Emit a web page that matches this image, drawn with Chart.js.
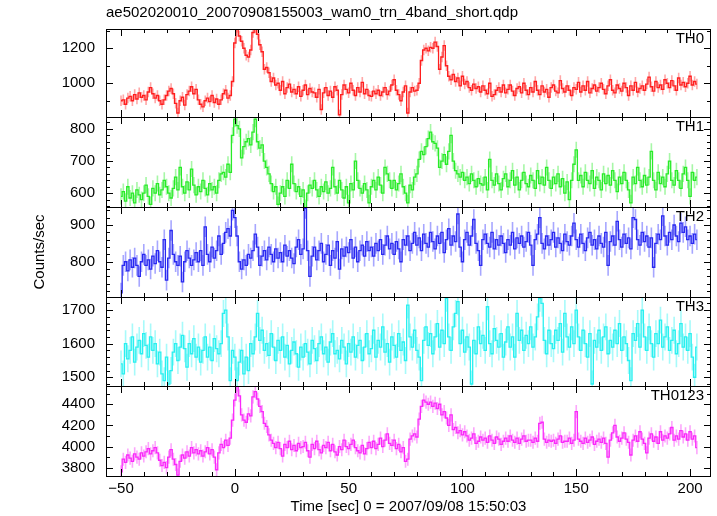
<!DOCTYPE html>
<html>
<head>
<meta charset="utf-8">
<script src="https://cdn.jsdelivr.net/npm/chart.js@4.4.0/dist/chart.umd.min.js"></script>
<style>
  html, body { margin: 0; padding: 0; background: #fff; }
  #wrap { position: relative; width: 717px; height: 516px; }
  #wrap canvas { position: absolute; left: 0; top: 0; }
</style>
</head>
<body>
<div id="wrap">
  <canvas id="p0" width="717" height="516"></canvas>
  <canvas id="p1" width="717" height="516"></canvas>
  <canvas id="p2" width="717" height="516"></canvas>
  <canvas id="p3" width="717" height="516"></canvas>
  <canvas id="p4" width="717" height="516"></canvas>
</div>
<script>
const plotTitle = 'ae502020010_20070908155003_wam0_trn_4band_short.qdp';
const xTitle = 'Time [sec] 0 = 2007/09/08 15:50:03';
const yTitle = 'Counts/sec';
const bandNames = ['TH0', 'TH1', 'TH2', 'TH3', 'TH0123'];

// light curves, 1 s bins, first bin centred on t = -50 s
const tStart = -50;
const binSec = 1;

const th0 = [
  900, 905, 880, 915, 925, 900, 935, 910, 945, 920,
  930, 905, 950, 975, 940, 915, 930, 900, 880, 905,
  930, 955, 970, 940, 885, 830, 900, 920, 875, 935,
  955, 980, 940, 965, 905, 880, 865, 900, 915, 895,
  930, 890, 910, 880, 905, 940, 960, 915, 930, 1010,
  1230, 1320, 1270, 1240, 1200, 1160, 1150, 1190, 1290, 1315,
  1280, 1220, 1180, 1080, 1090, 1060, 1010, 1030, 990, 1000,
  960, 1010, 940, 975, 995, 950, 965, 940, 980, 925,
  960, 990, 935, 970, 950, 945, 920, 965, 850, 945,
  975, 930, 955, 920, 980, 960, 820, 935, 990, 965,
  945, 1000, 960, 930, 975, 950, 1005, 940, 965, 930,
  925, 955, 940, 960, 930, 950, 975, 935, 955, 990,
  1020, 960, 935, 900, 950, 985, 830, 950, 975, 955,
  960, 1000, 1130, 1190, 1200, 1185, 1205, 1200, 1235, 1210,
  1080, 1150, 1215, 1100, 1040, 1020, 1050, 1010, 1030, 985,
  1040, 995, 1010, 975, 960, 995, 970, 980, 950, 985,
  960, 940, 1000, 925, 935, 960, 975, 950, 990, 945,
  965, 990, 955, 930, 970, 980, 945, 1000, 960, 935,
  975, 950, 1010, 960, 935, 985, 950, 965, 920, 975,
  990, 955, 945, 1015, 970, 950, 985, 960, 930, 975,
  965, 1005, 950, 985, 960, 1010, 945, 970, 990, 955,
  975, 1000, 965, 940, 985, 1020, 960, 945, 990, 970,
  955, 1000, 975, 930, 985, 960, 1005, 950, 970, 985,
  960, 995, 1035, 980, 955, 1010, 975, 990, 965, 1020,
  1000, 975, 1015, 985, 960, 1030, 990, 1005, 980, 1000,
  1040, 990, 1010, 995
];
const th1 = [
  590, 605, 575, 620, 585, 600, 570, 610, 595, 580,
  600, 625, 590, 565, 615, 600, 630, 595, 610, 640,
  620, 600, 585, 615, 650, 610, 680, 620, 600, 635,
  610, 675, 625, 595, 620, 605, 640, 615, 595, 630,
  610, 620, 600, 640, 660, 665, 650, 690, 665, 780,
  830, 810, 800, 710, 745, 760, 770, 750, 790, 830,
  760, 740, 750, 700, 680, 660, 630, 605, 620, 565,
  600, 620, 590, 640, 615, 690, 630, 605, 620, 590,
  610, 555, 600, 625, 615, 640, 610, 590, 620, 605,
  635, 600, 615, 680, 620, 600, 640, 610, 585, 620,
  570, 630, 610, 700, 640, 615, 600, 630, 610, 570,
  620, 640, 610, 650, 625, 600, 680, 660, 640, 615,
  640, 610, 630, 660, 620, 600, 570, 625, 610, 650,
  660, 705, 730, 720, 745, 770, 790, 760, 755, 740,
  680, 700, 720, 690, 730, 780, 700, 670, 660, 650,
  665, 640, 650, 630, 660, 640, 620, 645, 630, 625,
  650, 610, 705, 640, 625, 660, 630, 610, 645, 660,
  620, 640, 670, 625, 650, 610, 640, 665, 630, 620,
  655, 640, 615, 670, 630, 650, 625, 680, 640, 615,
  650, 630, 660, 620, 645, 600, 635, 580, 640, 690,
  735, 640, 655, 620, 665, 640, 630, 670, 615, 650,
  640, 610, 660, 630, 655, 625, 670, 640, 605, 650,
  630, 665, 640, 610, 570, 650, 630, 680, 640, 620,
  655, 625, 650, 730, 640, 610, 665, 630, 650, 620,
  660, 700, 640, 625, 670, 640, 615, 660, 680, 640,
  590, 665, 640, 650
];
const th2 = [
  715, 790, 800, 775, 805, 785, 810, 790, 760, 800,
  820, 790, 805, 780, 815, 795, 830, 800, 785, 860,
  750, 810, 885, 820, 800, 790, 815, 745, 800, 830,
  810, 790, 805, 825, 800, 830, 790, 895, 820, 800,
  840, 810, 830, 870, 820, 850, 880, 890, 870, 940,
  920, 870, 800, 780, 805, 790, 820, 810, 830, 875,
  840, 790, 815, 830, 805, 840, 820, 800, 835, 810,
  825, 800, 845, 815, 830, 810, 795, 840, 860, 820,
  835, 945, 830, 760, 815, 840, 805, 830, 850, 800,
  820, 845, 790, 830, 810, 855, 780, 835, 815, 840,
  825, 860, 810, 840, 800, 830, 845, 815, 855, 830,
  840, 815, 850, 830, 860, 820, 845, 870, 835, 850,
  820, 855, 835, 800, 860, 845, 870, 830, 850, 880,
  845, 865, 830, 875, 850, 840, 880, 855, 835, 870,
  850, 880, 825, 860, 890, 845, 870, 855, 930, 840,
  800, 860, 880, 845, 870, 915, 850, 830, 790, 860,
  875, 850, 840, 880, 835, 860, 845, 870, 850, 825,
  860, 845, 880, 835, 865, 850, 870, 840, 855, 880,
  845, 790, 860, 875, 920, 850, 835, 870, 845, 860,
  880, 840, 865, 850, 830, 875, 855, 845, 870, 905,
  860, 840, 875, 850, 830, 865, 880, 845, 860, 835,
  870, 850, 840, 880, 790, 855, 870, 845, 910, 860,
  840, 875, 850, 865, 835, 920, 915, 860, 845, 880,
  855, 870, 840, 865, 785, 850, 875, 860, 925, 870,
  845, 880, 860, 900, 870, 855, 905, 880, 895, 860,
  870, 850, 875, 860
];
const th3 = [
  1540, 1510, 1600, 1555, 1580, 1620, 1545, 1590, 1610, 1570,
  1630, 1595, 1560, 1620, 1580, 1600, 1540, 1575, 1510, 1490,
  1560, 1480, 1520, 1575, 1600, 1550, 1590, 1625, 1585, 1530,
  1600, 1570, 1615, 1560, 1590, 1545, 1580, 1620, 1560, 1590,
  1550, 1615, 1585, 1570, 1600, 1690, 1700, 1620, 1490, 1580,
  1560, 1490, 1545, 1580, 1510, 1560, 1520, 1600, 1570, 1620,
  1690, 1610, 1640, 1580, 1600, 1565, 1630, 1590, 1550, 1610,
  1580, 1620, 1560, 1595, 1540, 1580, 1605, 1570, 1530, 1590,
  1560, 1600, 1575, 1540, 1610, 1585, 1550, 1600, 1620, 1570,
  1590, 1545, 1605, 1630, 1570, 1580, 1555, 1610, 1590, 1540,
  1600, 1575, 1620, 1560, 1595, 1610, 1550, 1590, 1630, 1570,
  1585, 1640, 1560, 1610, 1590, 1650, 1575, 1600, 1545, 1620,
  1595, 1560, 1630, 1580, 1605, 1550, 1715, 1620, 1590, 1640,
  1580, 1560, 1490, 1610, 1650, 1595, 1630, 1570, 1620, 1660,
  1590, 1640, 1600, 1735, 1620, 1580, 1650, 1690, 1725, 1600,
  1640, 1575, 1620, 1590, 1480, 1610, 1570, 1650, 1600, 1625,
  1580, 1710, 1600, 1570, 1645, 1610, 1590, 1630, 1560, 1605,
  1650, 1590, 1620, 1560, 1690, 1610, 1640, 1580, 1625, 1600,
  1650, 1590, 1620, 1680, 1735, 1720, 1610, 1570, 1640, 1600,
  1585, 1640, 1610, 1660, 1575, 1690, 1620, 1590, 1650, 1600,
  1700, 1620, 1580, 1640, 1600, 1560, 1630, 1480, 1610, 1590,
  1640, 1580, 1620, 1650, 1570, 1610, 1590, 1640, 1600, 1660,
  1580, 1620, 1600, 1550, 1490, 1630, 1610, 1660, 1590, 1700,
  1620, 1580, 1650, 1600, 1560, 1630, 1600, 1670, 1590, 1620,
  1650, 1580, 1610, 1640, 1570, 1600, 1660, 1590, 1620, 1580,
  1630, 1560, 1500, 1590
];
const th0123 = [
  3760, 3880, 3850, 3920, 3890, 3860, 3930, 3900, 3880, 3940,
  3910, 3950, 3980, 3930, 3960, 3990, 3940, 3870, 3820, 3850,
  3800, 3900, 3970, 3880, 3830, 3730, 3860, 3920, 3890, 3950,
  3910, 3990, 3940, 3970, 3930, 3960, 3910, 3950, 3990, 3930,
  3970, 3900, 3780, 3940, 4020, 3990, 4060, 4010, 4080, 4250,
  4440, 4580, 4480, 4300, 4250, 4230, 4310, 4290, 4470, 4520,
  4450, 4380, 4330, 4220, 4190, 4110, 4060, 4030, 3990, 4040,
  3980, 3910, 4020, 3990, 4050, 3970, 4010, 3960, 4030, 3990,
  4000, 4040, 3960, 3900, 4020, 3980, 4050, 3970, 3940, 4010,
  3990, 4040, 3960, 4020, 3950, 3920, 4000, 3970, 4060, 4000,
  3980, 4020, 4060, 3990, 3960, 3940, 4010, 3930, 3980, 4040,
  3990, 4050, 3980, 4020, 4080, 4000, 4060, 4120, 4030, 4010,
  4060, 3980, 4020, 3950, 3990, 3860, 3880, 4070, 4100, 4120,
  4090, 4260, 4380, 4440, 4420, 4400, 4420, 4380, 4410, 4360,
  4400, 4300, 4330, 4270, 4200, 4300, 4160, 4180, 4130, 4150,
  4110, 4140, 4100, 4060, 4080, 4120, 4030, 4050, 4090, 4060,
  4080, 4040, 4100, 4060, 4030, 4090, 4070, 4020, 4050, 4080,
  4050, 4100, 4060, 4040, 4080, 4030, 4070, 4100, 4050, 4060,
  4060, 4040, 4080, 4050, 4220, 4230, 4070, 4040, 4060, 4050,
  4060, 4030, 4070, 4100, 4040, 4050, 4050, 4080, 4030, 4060,
  4330, 4070, 4050, 4030, 4080, 4040, 4060, 4090, 4020, 4050,
  4070, 4040, 4080, 4030, 3900, 4060, 4130, 4200, 4090, 4050,
  4080, 4130, 4070, 4040, 3920, 4060, 4100, 4050, 4140, 4070,
  4030, 3940, 4080, 4120, 4050, 4090, 4030, 4140, 4060, 4100,
  4080, 4120, 4180, 4060, 4100, 4070, 4150, 4090, 4120, 4060,
  4140, 4070, 4100, 3990
];
const series = [th0, th1, th2, th3, th0123];
const errHalf = [30, 25, 28, 40, 62];          // 1-sigma error bar half length

const yMin = [807, 557, 704, 1474, 3721];
const yMax = [1310, 837, 949, 1739, 4573];
const yTicks = [
  [1000, 1200],
  [600, 700, 800],
  [800, 900],
  [1500, 1600, 1700],
  [3800, 4000, 4200, 4400]
];
const yMinorStep = [100, 20, 20, 20, 100];
const xMin = -56.6, xMax = 209.2;
const xTicks = [-50, 0, 50, 100, 150, 200];
const xMinorStep = 10;

// layout / styling
const panelEdges = [29, 117, 207, 297, 386, 476];
const lineColors = ['rgb(255,30,30)', 'rgb(40,235,40)', 'rgb(40,40,240)', 'rgb(40,240,240)', 'rgb(250,40,250)'];
const errColors = ['rgba(255,80,80,0.5)', 'rgba(80,240,80,0.5)', 'rgba(80,80,255,0.5)', 'rgba(80,245,245,0.5)', 'rgba(250,80,250,0.5)'];

Chart.defaults.font.family = "'Liberation Sans', Arial, Helvetica, sans-serif";
Chart.defaults.font.size = 15;
Chart.defaults.color = '#000';

// error bars under the line, qdp style box with inward ticks on top
const qdpFrame = {
  id: 'qdpFrame',
  beforeDatasetsDraw(chart, args, opts) {
    const {ctx, chartArea: a} = chart;
    const ys = chart.scales.y;
    const pts = chart.getDatasetMeta(0).data;
    const vals = chart.data.datasets[0].data;
    ctx.save();
    ctx.beginPath();
    ctx.rect(a.left, a.top, a.right - a.left, a.bottom - a.top);
    ctx.clip();
    ctx.strokeStyle = opts.errColor;
    ctx.lineWidth = 1.6;
    ctx.beginPath();
    pts.forEach((p, i) => {
      const v = vals[i].y;
      ctx.moveTo(p.x, ys.getPixelForValue(v + opts.err));
      ctx.lineTo(p.x, ys.getPixelForValue(v - opts.err));
    });
    ctx.stroke();
    ctx.restore();
  },
  afterDraw(chart, args, opts) {
    const {ctx, chartArea: a} = chart;
    const xs = chart.scales.x, ys = chart.scales.y;
    ctx.save();
    ctx.strokeStyle = '#000';
    ctx.lineWidth = 1;
    ctx.beginPath();
    const yTick = (v, len) => {
      const y = Math.round(ys.getPixelForValue(v)) + 0.5;
      ctx.moveTo(a.left, y); ctx.lineTo(a.left + len, y);
      ctx.moveTo(a.right, y); ctx.lineTo(a.right - len, y);
    };
    const xTick = (v, len) => {
      const x = Math.round(xs.getPixelForValue(v)) + 0.5;
      ctx.moveTo(x, a.top); ctx.lineTo(x, a.top + len);
      ctx.moveTo(x, a.bottom); ctx.lineTo(x, a.bottom - len);
    };
    for (let v = Math.ceil(ys.min / opts.yMinor) * opts.yMinor; v <= ys.max; v += opts.yMinor) yTick(v, 4);
    opts.yMajor.forEach(v => yTick(v, 7));
    for (let v = Math.ceil(xs.min / xMinorStep) * xMinorStep; v <= xs.max; v += xMinorStep) xTick(v, 4);
    xTicks.forEach(v => xTick(v, 7));
    ctx.stroke();
    ctx.strokeRect(a.left + 0.5, a.top + 0.5, a.right - a.left - 1, a.bottom - a.top);
    ctx.fillStyle = '#000';
    ctx.font = "15px 'Liberation Sans', Arial, sans-serif";
    ctx.textAlign = 'right';
    ctx.textBaseline = 'middle';
    ctx.fillText(opts.label, a.right - 7, a.top + 10);
    ctx.restore();
  }
};

function panelConfig(i) {
  const last = i === series.length - 1;
  return {
    type: 'line',
    data: {
      datasets: [{
        label: bandNames[i],
        data: series[i].map((v, k) => ({x: tStart + k * binSec, y: v})),
        borderColor: lineColors[i],
        borderWidth: 1.3,
        pointRadius: 0,
        stepped: 'middle',
        fill: false
      }]
    },
    options: {
      responsive: false,
      animation: false,
      devicePixelRatio: 1,
      layout: {
        padding: {
          top: i === 0 ? 0 : panelEdges[i],
          bottom: last ? 0 : 516 - panelEdges[i + 1],
          left: 0,
          right: 6
        }
      },
      plugins: {
        legend: {display: false},
        tooltip: {enabled: false},
        title: {
          display: i === 0,
          text: plotTitle,
          align: 'start',
          fullSize: false,
          font: {size: 15, weight: 'normal'},
          padding: {top: 4, bottom: 7},
          color: '#000'
        },
        qdpFrame: {
          err: errHalf[i],
          errColor: errColors[i],
          yMajor: yTicks[i],
          yMinor: yMinorStep[i],
          label: bandNames[i]
        }
      },
      scales: {
        x: {
          type: 'linear',
          min: xMin,
          max: xMax,
          display: last,
          grid: {display: false, drawTicks: false},
          border: {display: false},
          afterBuildTicks: s => { s.ticks = xTicks.map(v => ({value: v})); },
          afterFit: s => { s.height = last ? 40 : 0; },
          ticks: {
            padding: 4,
            autoSkip: false,
            maxRotation: 0,
            callback: v => String(v).replace('-', '\u2212')
          },
          title: {display: last, text: xTitle, padding: {top: 0, bottom: 0}, font: {size: 15}}
        },
        y: {
          type: 'linear',
          min: yMin[i],
          max: yMax[i],
          grid: {display: false, drawTicks: false},
          border: {display: false},
          afterBuildTicks: s => { s.ticks = yTicks[i].map(v => ({value: v})); },
          afterFit: s => { s.width = 106; },
          ticks: {padding: 11, autoSkip: false, callback: v => String(v)},
          title: {display: i === 2, text: yTitle, padding: {top: 31, bottom: 0}, font: {size: 15}}
        }
      }
    },
    plugins: [qdpFrame]
  };
}

series.forEach((s, i) => {
  new Chart(document.getElementById('p' + i), panelConfig(i));
});
</script>
</body>
</html>
